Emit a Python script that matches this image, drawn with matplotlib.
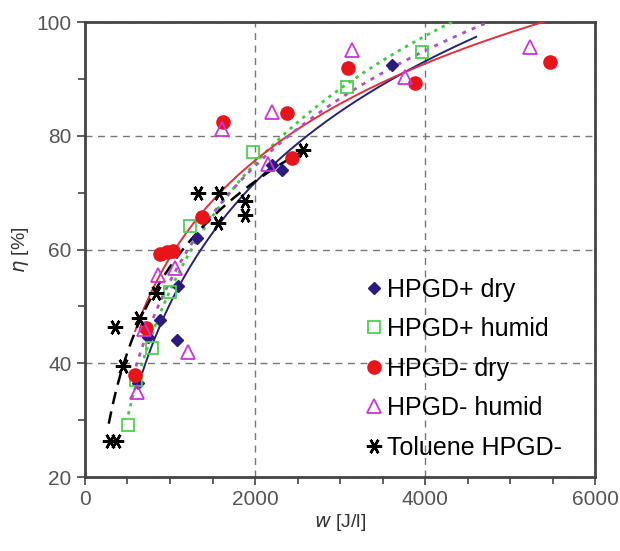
"""
Removal efficiency eta vs. specific input energy w for HPGD+/HPGD- reactors,
dry and humid air, plus toluene. Trend lines are log fits of each series.
"""

import matplotlib

matplotlib.use("Agg")
import matplotlib.pyplot as plt
import numpy as np
from matplotlib.ticker import MultipleLocator

plt.rcParams["font.family"] = ["Liberation Sans", "DejaVu Sans"]

# ---- data ------------------------------------------------------------------
hpgd_plus_dry_w = [620, 740, 880, 1080, 1100, 1320, 2200, 2320, 3610]
hpgd_plus_dry_eta = [36.5, 44.6, 47.6, 44.1, 53.6, 62.0, 74.9, 74.0, 92.4]

hpgd_plus_humid_w = [510, 600, 790, 1000, 1230, 1980, 3080, 3960]
hpgd_plus_humid_eta = [29.1, 37.0, 42.7, 52.5, 64.2, 77.1, 88.6, 94.7]

hpgd_minus_dry_w = [590, 720, 880, 970, 1030, 1380, 1620, 2380, 2440, 3090, 3880, 5470]
hpgd_minus_dry_eta = [38.0, 46.3, 59.3, 59.5, 59.7, 65.8, 82.4, 84.0, 76.1, 91.9, 89.2, 93.0]

hpgd_minus_humid_w = [610, 700, 860, 1060, 1210, 1610, 2150, 2200, 3140, 3760, 5230]
hpgd_minus_humid_eta = [35.0, 46.0, 55.5, 56.7, 42.0, 81.2, 75.0, 84.2, 95.1, 90.3, 95.6]

toluene_w = [300, 370, 350, 450, 640, 830, 1330, 1580, 1560, 1880, 1880, 2560]
toluene_eta = [26.4, 26.4, 46.4, 39.5, 48.0, 52.3, 70.0, 70.0, 64.7, 68.5, 66.0, 77.5]

# w range each trend line spans
fit_ranges = {
    "HPGD+ dry": (620, 4600),
    "HPGD+ humid": (510, 4600),
    "HPGD- dry": (590, 5500),
    "HPGD- humid": (600, 4700),
    "Toluene HPGD-": (280, 2560),
}

series = [
    # label, w, eta, marker style, line style
    ("HPGD+ dry", hpgd_plus_dry_w, hpgd_plus_dry_eta,
     dict(marker="D", ms=6.5, mfc="#2b1a80", mec="#2b1a80"),
     dict(color="#23237a", ls="-", lw=1.4)),
    ("HPGD+ humid", hpgd_plus_humid_w, hpgd_plus_humid_eta,
     dict(marker="s", ms=8.5, mfc="none", mec="#4cd24c", mew=1.3),
     dict(color="#3ccc3c", ls=(0, (1.2, 1.8)), lw=2.0)),
    ("HPGD- dry", hpgd_minus_dry_w, hpgd_minus_dry_eta,
     dict(marker="o", ms=9.5, mfc="#e8141c", mec="#e8141c"),
     dict(color="#e0303c", ls="-", lw=1.4)),
    ("HPGD- humid", hpgd_minus_humid_w, hpgd_minus_humid_eta,
     dict(marker="^", ms=9.5, mfc="none", mec="#cc33dd", mew=1.3),
     dict(color="#b050c8", ls=(0, (1.5, 2.2)), lw=2.0)),
    ("Toluene HPGD-", toluene_w, toluene_eta,
     dict(marker=(6, 2, 90), ms=11, mfc="black", mec="black", mew=1.8),
     dict(color="black", ls=(0, (5, 3)), lw=1.8)),
]

fig = plt.figure(figsize=(6.2, 5.51), dpi=100)
ax = fig.add_axes([0.137, 0.134, 0.823, 0.826])

for label, w, eta, mstyle, lstyle in series:
    w = np.asarray(w, dtype=float)
    eta = np.asarray(eta, dtype=float)
    b, a = np.polyfit(np.log(w), eta, 1)
    lo, hi = fit_ranges[label]
    w_fit = np.linspace(lo, hi, 200)
    ax.plot(w_fit, a + b * np.log(w_fit), zorder=3, **lstyle)
    ax.plot(w, eta, ls="none", label=label, zorder=4, **mstyle)

ax.set_xlim(0, 6000)
ax.set_ylim(20, 100)
ax.xaxis.set_major_locator(MultipleLocator(2000))
ax.xaxis.set_minor_locator(MultipleLocator(500))
ax.yaxis.set_major_locator(MultipleLocator(20))
ax.yaxis.set_minor_locator(MultipleLocator(10))
ax.tick_params(which="both", direction="out", colors="#444444", labelcolor="#555555",
               labelsize=15, width=1.2)
ax.tick_params(which="major", length=6)
ax.tick_params(which="minor", length=5)
ax.grid(True, which="major", ls=(0, (5, 4)), color="#777777", lw=1.0)
for spine in ax.spines.values():
    spine.set_color("#444444")
    spine.set_linewidth(2.0)

ax.set_xlabel(r"$w$ [J/l]", fontsize=14, color="#333333", labelpad=2)
ax.set_ylabel(r"$\eta$ [%]", fontsize=14, color="#333333", labelpad=4)

ax.legend(loc="lower right", frameon=False, fontsize=18, handletextpad=0.05,
          handlelength=1.0, labelspacing=0.62, borderaxespad=0.3,
          bbox_to_anchor=(0.97, 0.0))

fig.savefig("out.png", dpi=100)
